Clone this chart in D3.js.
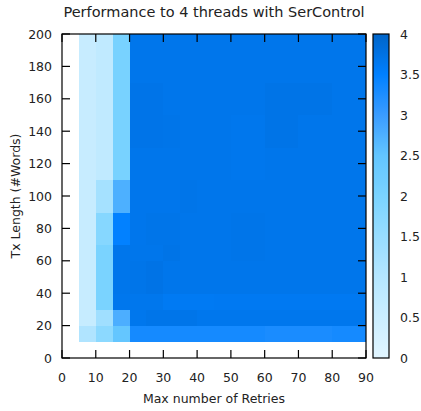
<!DOCTYPE html>
<html>
<head>
<meta charset="utf-8">
<script src="https://cdn.jsdelivr.net/npm/d3@7/dist/d3.min.js"></script>
<style>
  html, body { margin: 0; padding: 0; background: #fff; }
  svg text { font-family: "DejaVu Sans", sans-serif; fill: #222; }
</style>
</head>
<body>
<svg id="chart" width="421" height="411"></svg>
<script>
// Max number of retries: start of each column (each column spans 5 retries)
const retries = [5, 10, 15, 20, 25, 30, 35, 40, 45, 50, 55, 60, 65, 70, 75, 80, 85];
const retryStep = 5;
// Transaction length in words: start of each row (each row spans 10 words)
const txLengths = [10, 20, 30, 40, 50, 60, 70, 80, 90, 100, 110, 120, 130, 140, 150, 160, 170, 180, 190];
const txStep = 10;

// Speedup to 4 threads, one row per tx length (bottom to top), one value per retry column
const speedup = [
  [1.08, 1.70, 2.45, 3.32, 3.32, 3.32, 3.32, 3.32, 3.32, 3.32, 3.32, 3.28, 3.28, 3.28, 3.28, 3.32, 3.32],
  [0.62, 1.36, 2.78, 3.66, 3.70, 3.70, 3.70, 3.66, 3.66, 3.66, 3.66, 3.66, 3.66, 3.66, 3.66, 3.66, 3.66],
  [0.60, 2.00, 3.66, 3.66, 3.66, 3.61, 3.61, 3.61, 3.62, 3.62, 3.62, 3.62, 3.62, 3.62, 3.62, 3.62, 3.62],
  [0.60, 2.00, 3.68, 3.70, 3.73, 3.68, 3.68, 3.68, 3.68, 3.68, 3.68, 3.68, 3.68, 3.68, 3.68, 3.68, 3.68],
  [0.60, 2.00, 3.68, 3.70, 3.73, 3.68, 3.68, 3.68, 3.68, 3.68, 3.68, 3.68, 3.68, 3.68, 3.68, 3.68, 3.68],
  [0.60, 2.00, 3.68, 3.68, 3.68, 3.72, 3.68, 3.68, 3.68, 3.70, 3.70, 3.68, 3.68, 3.68, 3.68, 3.68, 3.68],
  [0.60, 1.80, 3.48, 3.67, 3.70, 3.70, 3.68, 3.68, 3.68, 3.70, 3.70, 3.68, 3.68, 3.68, 3.68, 3.68, 3.68],
  [0.60, 1.80, 3.48, 3.67, 3.70, 3.70, 3.68, 3.68, 3.68, 3.70, 3.70, 3.68, 3.68, 3.68, 3.68, 3.68, 3.68],
  [0.60, 1.27, 2.76, 3.67, 3.67, 3.67, 3.70, 3.68, 3.68, 3.68, 3.68, 3.68, 3.68, 3.68, 3.68, 3.68, 3.68],
  [0.60, 1.27, 2.76, 3.67, 3.67, 3.67, 3.70, 3.68, 3.68, 3.68, 3.68, 3.68, 3.68, 3.68, 3.68, 3.68, 3.68],
  [0.60, 0.75, 2.05, 3.68, 3.68, 3.68, 3.68, 3.68, 3.68, 3.66, 3.66, 3.68, 3.68, 3.68, 3.68, 3.68, 3.68],
  [0.60, 0.75, 2.05, 3.68, 3.68, 3.68, 3.68, 3.68, 3.68, 3.66, 3.66, 3.68, 3.68, 3.68, 3.68, 3.68, 3.68],
  [0.60, 0.75, 2.05, 3.71, 3.71, 3.70, 3.68, 3.68, 3.68, 3.66, 3.66, 3.72, 3.72, 3.68, 3.68, 3.68, 3.68],
  [0.60, 0.75, 2.05, 3.71, 3.71, 3.70, 3.68, 3.68, 3.68, 3.66, 3.66, 3.72, 3.72, 3.68, 3.68, 3.68, 3.68],
  [0.60, 0.75, 2.05, 3.71, 3.71, 3.68, 3.68, 3.68, 3.68, 3.68, 3.68, 3.72, 3.72, 3.72, 3.72, 3.68, 3.68],
  [0.60, 0.75, 2.05, 3.71, 3.71, 3.68, 3.68, 3.68, 3.68, 3.68, 3.68, 3.72, 3.72, 3.72, 3.72, 3.68, 3.68],
  [0.60, 0.75, 2.05, 3.68, 3.68, 3.68, 3.68, 3.68, 3.68, 3.68, 3.68, 3.68, 3.68, 3.68, 3.68, 3.68, 3.68],
  [0.60, 0.75, 2.05, 3.68, 3.68, 3.68, 3.68, 3.68, 3.68, 3.68, 3.68, 3.68, 3.68, 3.68, 3.68, 3.68, 3.68],
  [0.60, 0.75, 2.05, 3.68, 3.68, 3.68, 3.68, 3.68, 3.68, 3.68, 3.68, 3.68, 3.68, 3.68, 3.68, 3.68, 3.68]
];

const xTicks = [0, 10, 20, 30, 40, 50, 60, 70, 80, 90];
const yTicks = [0, 20, 40, 60, 80, 100, 120, 140, 160, 180, 200];
const cbTicks = [0, 0.5, 1, 1.5, 2, 2.5, 3, 3.5, 4];

// Palette stops (value -> colour)
const paletteStops = [0, 1, 2, 2.5, 3, 3.5, 4];
const paletteColors = ["#e1f5ff", "#b5e6ff", "#7ad3ff", "#62c5ff", "#3a9cff", "#0080ff", "#0064c8"];

const svg = d3.select("#chart");
const plot = { left: 62, right: 366, top: 34, bottom: 358 };
const cb = { left: 373, right: 389 };

const x = d3.scaleLinear().domain([0, 90]).range([plot.left, plot.right]);
const y = d3.scaleLinear().domain([0, 200]).range([plot.bottom, plot.top]);
const color = d3.scaleLinear().domain(paletteStops).range(paletteColors)
  .interpolate(d3.interpolateRgb).clamp(true);
const cbScale = d3.scaleLinear().domain([0, 4]).range([plot.bottom, plot.top]);

// Heatmap cells
const cells = [];
txLengths.forEach((t, i) => {
  retries.forEach((r, j) => {
    cells.push({ r, t, v: speedup[i][j] });
  });
});
svg.append("g").selectAll("rect").data(cells).join("rect")
  .attr("x", d => x(d.r))
  .attr("y", d => y(d.t + txStep))
  .attr("width", d => x(d.r + retryStep) - x(d.r) + 0.4)
  .attr("height", d => y(d.t) - y(d.t + txStep) + 0.4)
  .attr("fill", d => color(d.v))
  .attr("shape-rendering", "crispEdges");

// Frame and inward ticks on all four sides
const tickLen = 8;
const axes = svg.append("g").attr("stroke", "#000").attr("stroke-width", 1.2);
axes.append("rect")
  .attr("x", plot.left).attr("y", plot.top)
  .attr("width", plot.right - plot.left).attr("height", plot.bottom - plot.top)
  .attr("fill", "none");
xTicks.forEach(v => {
  axes.append("line").attr("x1", x(v)).attr("x2", x(v))
    .attr("y1", plot.bottom).attr("y2", plot.bottom - tickLen);
  axes.append("line").attr("x1", x(v)).attr("x2", x(v))
    .attr("y1", plot.top).attr("y2", plot.top + tickLen);
});
yTicks.forEach(v => {
  axes.append("line").attr("y1", y(v)).attr("y2", y(v))
    .attr("x1", plot.left).attr("x2", plot.left + tickLen);
  axes.append("line").attr("y1", y(v)).attr("y2", y(v))
    .attr("x1", plot.right).attr("x2", plot.right - tickLen);
});

// Tick labels
svg.append("g").selectAll("text").data(xTicks).join("text")
  .attr("x", d => x(d)).attr("y", 382)
  .attr("text-anchor", "middle").attr("font-size", 12.5)
  .text(d => d);
svg.append("g").selectAll("text").data(yTicks).join("text")
  .attr("x", 52).attr("y", d => y(d)).attr("dy", "0.36em")
  .attr("text-anchor", "end").attr("font-size", 12.5)
  .text(d => d);

// Colour bar
const grad = svg.append("defs").append("linearGradient")
  .attr("id", "cbgrad").attr("x1", 0).attr("y1", 1).attr("x2", 0).attr("y2", 0);
d3.range(0, 4.001, 0.1).forEach(v => {
  grad.append("stop").attr("offset", v / 4).attr("stop-color", color(v));
});
svg.append("rect")
  .attr("x", cb.left).attr("y", cbScale(4))
  .attr("width", cb.right - cb.left).attr("height", cbScale(0) - cbScale(4))
  .attr("fill", "url(#cbgrad)").attr("stroke", "#000").attr("stroke-width", 1.2);
svg.append("g").selectAll("text").data(cbTicks).join("text")
  .attr("x", 400).attr("y", d => cbScale(d)).attr("dy", "0.36em")
  .attr("font-size", 12.5)
  .text(d => d);

// Titles
svg.append("text").attr("x", 214).attr("y", 17)
  .attr("text-anchor", "middle").attr("font-size", 14.5)
  .text("Performance to 4 threads with SerControl");
svg.append("text").attr("x", 214).attr("y", 403)
  .attr("text-anchor", "middle").attr("font-size", 12.5)
  .text("Max number of Retries");
svg.append("text")
  .attr("transform", `translate(20, ${(plot.top + plot.bottom) / 2}) rotate(-90)`)
  .attr("text-anchor", "middle").attr("font-size", 12.5)
  .text("Tx Length (#Words)");
</script>
</body>
</html>
